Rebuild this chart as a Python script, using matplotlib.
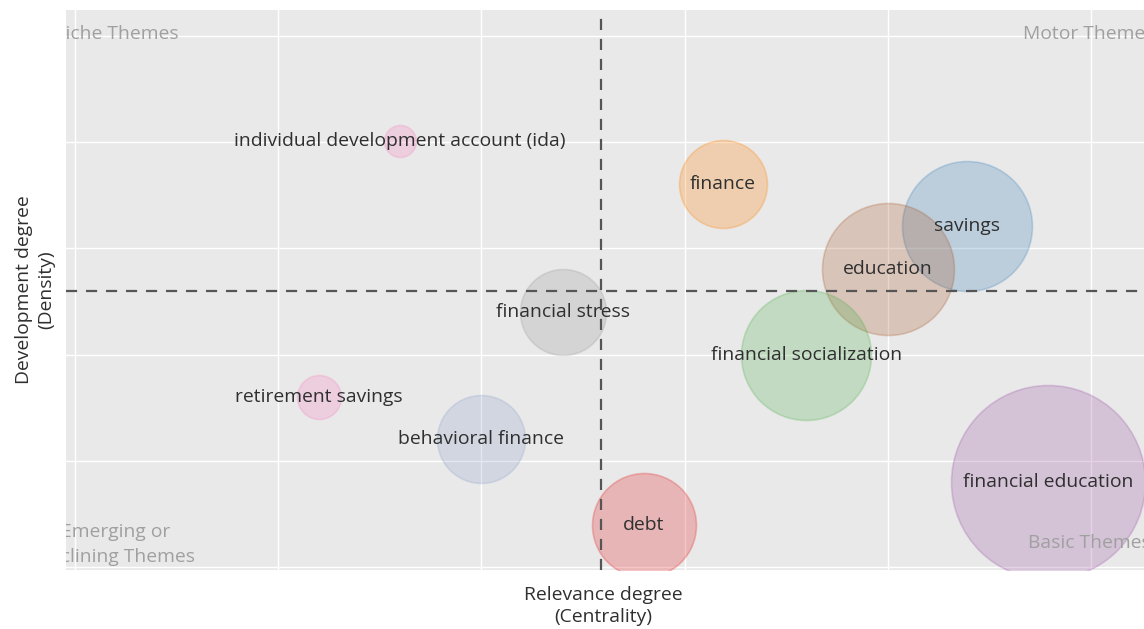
import numpy as np
import matplotlib.pyplot as plt

plt.rcParams['font.family'] = ['Open Sans', 'DejaVu Sans']

# themes: centrality (x), density (y), bubble size (cluster frequency)
themes = ['individual development account (ida)', 'finance', 'savings', 'education',
          'financial stress', 'financial socialization', 'retirement savings',
          'behavioral finance', 'debt', 'financial education']
centrality = [1.60, 3.19, 4.39, 4.00, 2.40, 3.60, 1.20, 2.00, 2.80, 4.79]
density = [4.01, 3.61, 3.21, 2.81, 2.40, 2.00, 1.60, 1.21, 0.40, 0.80]
freq = [16, 44, 65, 66, 43, 65, 22, 44, 52, 97]
colors = ['#F781BF', '#FF7F00', '#377EB8', '#A65628', '#999999',
          '#4DAF4A', '#F781BF', '#8DA0CB', '#E41A1C', '#984EA3']

x_mid = 2.59
y_mid = 2.60

fig = plt.figure(figsize=(11.44, 6.29), dpi=100)
ax = fig.add_axes([66 / 1144, 59 / 629, 1078 / 1144, 560 / 629])
ax.set_facecolor('#E9E9E9')
for s in ax.spines.values():
    s.set_visible(False)

ax.set_xlim(-0.0443, 5.261)
ax.set_ylim(-0.028, 5.245)
ax.set_xticks(np.arange(0, 6))
ax.set_yticks(np.arange(0, 6))
ax.tick_params(length=0, labelbottom=False, labelleft=False)
ax.grid(True, color='white', lw=1.0)
ax.set_axisbelow(True)

fs = 13.9
# marker area from radius in pixels (dpi 100 -> 0.72 pt per px)
sizes = [(2 * r * 0.72) ** 2 for r in freq]
for i in range(len(themes)):
    ax.scatter(centrality[i], density[i], s=sizes[i], color=colors[i], alpha=0.25,
               edgecolors=colors[i], linewidths=1.2, zorder=2)
for i in range(len(themes)):
    ax.text(centrality[i], density[i], themes[i], ha='center', va='center',
            fontsize=fs, color='#2f2f2f', zorder=4)

ax.axvline(x_mid, color='#555555', lw=1.6, ls=(0, (5, 4)), zorder=3)
ax.axhline(y_mid, color='#555555', lw=1.6, ls=(0, (5, 4)), zorder=3)

# quadrant labels, cut by the plot edges as in the original
qcol = '#A0A0A0'
ax.text(0.512, 5.02, 'Niche Themes', ha='right', va='center', fontsize=fs,
        color=qcol, clip_on=True)
ax.text(4.665, 5.02, 'Motor Themes', ha='left', va='center', fontsize=fs,
        color=qcol, clip_on=True)
ax.text(4.69, 0.226, 'Basic Themes', ha='left', va='center', fontsize=fs,
        color=qcol, clip_on=True)
ax.text(0.468, 0.33, 'Emerging or', ha='right', va='center', fontsize=fs,
        color=qcol, clip_on=True)
ax.text(0.591, 0.094, 'Declining Themes', ha='right', va='center', fontsize=fs,
        color=qcol, clip_on=True)

fig.text(603 / 1144, 1 - 606 / 629, 'Relevance degree\n(Centrality)', ha='center',
         va='center', fontsize=fs, color='#2f2f2f', linespacing=1.3)
fig.text(35 / 1144, 1 - 290 / 629, 'Development degree\n(Density)', ha='center',
         va='center', rotation=90, fontsize=fs, color='#2f2f2f', linespacing=1.3)

fig.savefig('out.png', dpi=100)
